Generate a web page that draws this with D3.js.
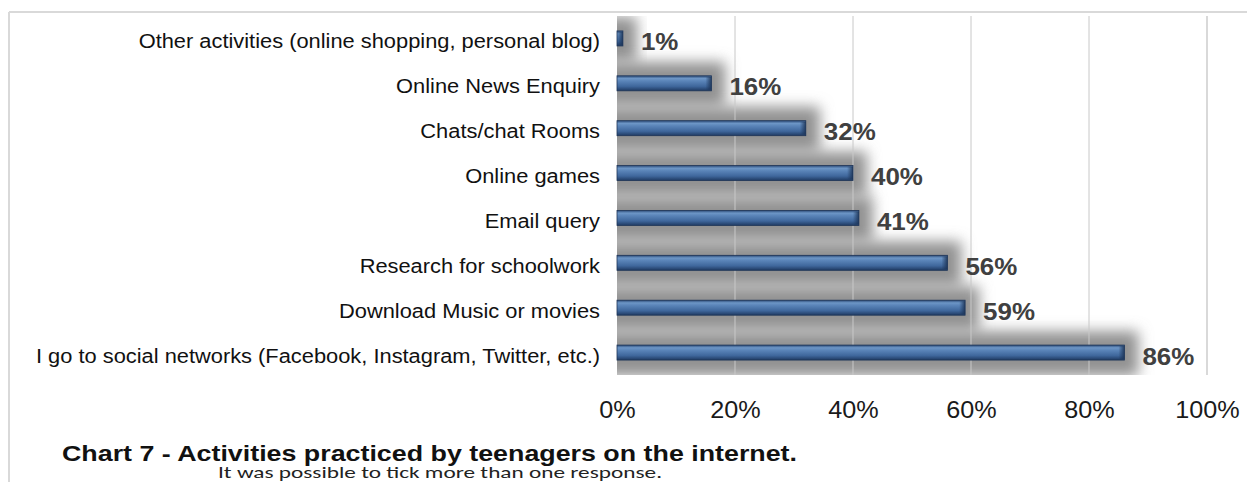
<!DOCTYPE html>
<html>
<head>
<meta charset="utf-8">
<script src="https://cdn.jsdelivr.net/npm/d3@7"></script>
<style>
  html, body { margin: 0; padding: 0; background: #fff; }
  svg { display: block; }
</style>
</head>
<body>
<svg id="chart" width="1247" height="482"></svg>
<script>
// Activities practiced by teenagers on the internet (share of respondents)
const categories = [
  "Other activities (online shopping, personal blog)",
  "Online News Enquiry",
  "Chats/chat Rooms",
  "Online games",
  "Email query",
  "Research for schoolwork",
  "Download Music or movies",
  "I go to social networks (Facebook, Instagram, Twitter, etc.)"
];
const values = [1, 16, 32, 40, 41, 56, 59, 86];
const tickValues = [0, 20, 40, 60, 80, 100];
const tickLabels = ["0%", "20%", "40%", "60%", "80%", "100%"];
const titleText = "Chart 7 - Activities  practiced by teenagers on the internet.";
const noteText = "It was possible to tick more than one response.";

const svg = d3.select("#chart");
const W = 1247, H = 482;
const FONT = "Liberation Sans, Arial, sans-serif";

const plot = { left: 617, right: 1207, top: 16, bottom: 375 };

const x = d3.scaleLinear().domain([0, 100]).range([plot.left, plot.right]);
const y = d3.scaleBand().domain(categories).range([plot.top, plot.bottom]).padding(0);
const barH = 15;

// widen a text element horizontally by a factor
function widen(sel, factor) {
  sel.each(function () {
    const w = this.getComputedTextLength();
    d3.select(this).attr("textLength", w * factor).attr("lengthAdjust", "spacingAndGlyphs");
  });
}

const defs = svg.append("defs");

// soft shadow around each bar
const blur = defs.append("filter").attr("id", "soft")
  .attr("x", "-20%").attr("y", "-50%").attr("width", "140%").attr("height", "200%");
blur.append("feGaussianBlur").attr("stdDeviation", 7);

defs.append("clipPath").attr("id", "plotClip")
  .append("rect")
  .attr("x", plot.left).attr("y", plot.top)
  .attr("width", plot.right - plot.left).attr("height", plot.bottom - plot.top);

// bevelled bar fill
const grad = defs.append("linearGradient").attr("id", "barFill")
  .attr("x1", 0).attr("y1", 0).attr("x2", 0).attr("y2", 1);
[
  [0, "#2b4a77"], [0.18, "#6d96c6"], [0.35, "#5a84b8"],
  [0.7, "#3f679c"], [1, "#1f3a62"]
].forEach(([o, c]) => grad.append("stop").attr("offset", o).attr("stop-color", c));

const capGrad = defs.append("linearGradient").attr("id", "capFill")
  .attr("x1", 0).attr("y1", 0).attr("x2", 1).attr("y2", 0);
capGrad.append("stop").attr("offset", 0).attr("stop-color", "#1c3457").attr("stop-opacity", 0);
capGrad.append("stop").attr("offset", 1).attr("stop-color", "#1c3457").attr("stop-opacity", 0.9);

// frame lines
svg.append("line").attr("x1", 9).attr("x2", W).attr("y1", 12).attr("y2", 12)
  .attr("stroke", "#d9d9d9").attr("stroke-width", 2);
svg.append("line").attr("x1", 9).attr("x2", 9).attr("y1", 12).attr("y2", H)
  .attr("stroke", "#d9d9d9").attr("stroke-width", 2);

// shadows
svg.append("g").attr("clip-path", "url(#plotClip)")
  .selectAll("rect").data(values).join("rect")
  .attr("x", plot.left - 30)
  .attr("y", (d, i) => y(categories[i]) + 1)
  .attr("width", d => x(d) - plot.left + 44)
  .attr("height", y.bandwidth())
  .attr("fill", "#929292")
  .attr("filter", "url(#soft)");

// gridlines
svg.append("g").selectAll("line").data(tickValues.slice(1)).join("line")
  .attr("x1", d => x(d)).attr("x2", d => x(d))
  .attr("y1", plot.top).attr("y2", plot.bottom)
  .attr("stroke", (d) => d === 100 ? "#d9d9d9" : "#c8c8c8")
  .attr("stroke-width", d => d === 100 ? 2 : 1);

// bars
const bars = svg.append("g");
bars.selectAll("rect.bar").data(values).join("rect")
  .attr("class", "bar")
  .attr("x", plot.left)
  .attr("y", (d, i) => y(categories[i]) + y.bandwidth() / 2 - barH / 2)
  .attr("width", d => x(d) - plot.left)
  .attr("height", barH)
  .attr("fill", "url(#barFill)")
  .attr("stroke", "#1e3558")
  .attr("stroke-width", 0.8);
bars.selectAll("rect.cap").data(values).join("rect")
  .attr("class", "cap")
  .attr("x", d => Math.max(plot.left, x(d) - 6))
  .attr("y", (d, i) => y(categories[i]) + y.bandwidth() / 2 - barH / 2 + 1)
  .attr("width", d => Math.min(6, x(d) - plot.left))
  .attr("height", barH - 2)
  .attr("fill", "url(#capFill)");

// value labels
svg.append("g").selectAll("text").data(values).join("text")
  .attr("x", d => x(d) + 18)
  .attr("y", (d, i) => y(categories[i]) + y.bandwidth() / 2 + 12)
  .attr("font-family", FONT)
  .attr("font-weight", "bold")
  .attr("font-size", 24)
  .attr("fill", "#404040")
  .text(d => d + "%")
  .call(widen, 1.08);

// category labels
svg.append("g").selectAll("text").data(categories).join("text")
  .attr("x", 600)
  .attr("y", d => y(d) + y.bandwidth() / 2 + 10)
  .attr("text-anchor", "end")
  .attr("font-family", FONT)
  .attr("font-size", 19.5)
  .attr("fill", "#111")
  .text(d => d)
  .call(widen, 1.12);

// x axis tick labels
const xAxis = d3.axisBottom(x).tickValues(tickValues)
  .tickFormat((d, i) => tickLabels[i]).tickSize(0).tickPadding(0);
const gx = svg.append("g").attr("transform", `translate(0, ${plot.bottom + 43})`).call(xAxis);
gx.select(".domain").remove();
gx.selectAll("text")
  .attr("dy", 0)
  .attr("font-family", FONT)
  .attr("font-size", 24)
  .attr("fill", "#1a1a1a")
  .call(widen, 1.05);

// title and note
svg.append("text")
  .attr("x", 62).attr("y", 461)
  .attr("font-family", FONT)
  .attr("font-weight", "bold")
  .attr("font-size", 22.5)
  .attr("fill", "#111")
  .text(titleText)
  .attr("textLength", 735)
  .attr("lengthAdjust", "spacingAndGlyphs");
svg.append("text")
  .attr("x", 218).attr("y", 477.5)
  .attr("font-family", "Carlito, Lato, sans-serif")
  .attr("font-size", 16.5)
  .attr("fill", "#222")
  .text(noteText)
  .attr("textLength", 444)
  .attr("lengthAdjust", "spacingAndGlyphs");
</script>
</body>
</html>
